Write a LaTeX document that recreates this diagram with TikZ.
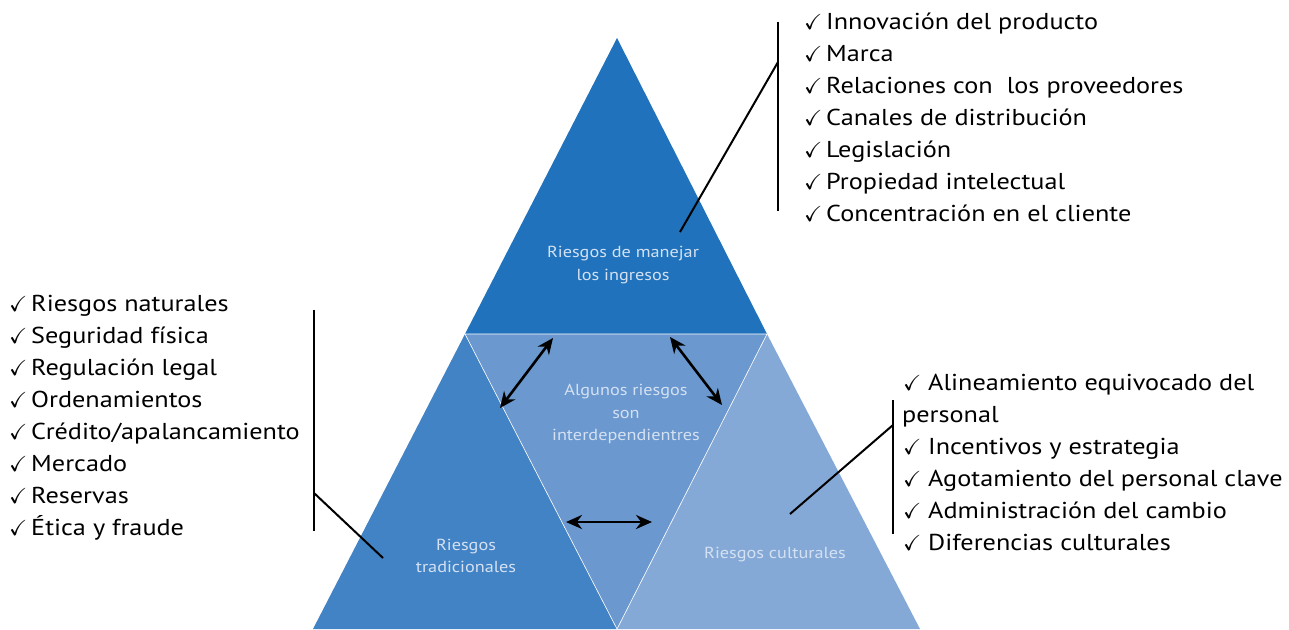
\documentclass[tikz,border=0pt]{standalone}
\usepackage{fontspec}
\usepackage{amssymb}
\setmainfont{PT Sans}[FakeStretch=1.14]
\usetikzlibrary{arrows.meta}
\definecolor{topblue}{HTML}{1F72BB}
\definecolor{leftblue}{HTML}{4283C5}
\definecolor{midblue}{HTML}{6A98CF}
\definecolor{rightblue}{HTML}{85A9D7}
\definecolor{labeltxt}{HTML}{D4E1F2}
\newcommand{\ckm}{\makebox[22pt][l]{\scalebox{0.95}{$\checkmark$}}}
\newcommand{\ckr}{\makebox[25pt][l]{\scalebox{0.95}{$\checkmark$}}}
\begin{document}
\begin{tikzpicture}[x=1pt,y=-1pt,
  piece/.style={draw=white,line width=0.6pt},
  tlabel/.style={font=\fontsize{16}{22.5}\selectfont,text=labeltxt,align=center,inner sep=0pt},
  listitem/.style={font=\fontsize{23}{32}\selectfont,anchor=base west,inner sep=0pt},
  lead/.style={line width=2pt,black},
  dbl/.style={line width=2.6pt,black,{Stealth[length=16pt,width=14pt]}-{Stealth[length=16pt,width=14pt]}}]
\useasboundingbox (0,0) rectangle (1289,629);
% vertices
\coordinate (A) at (617,38);
\coordinate (B) at (465,334);
\coordinate (C) at (767,334);
\coordinate (D) at (313,629);
\coordinate (E) at (617,629);
\coordinate (F) at (920,629);
% pieces
\fill[topblue] (A) -- (B) -- (C) -- cycle;
\fill[leftblue] (B) -- (D) -- (E) -- cycle;
\fill[midblue] (B) -- (C) -- (E) -- cycle;
\fill[rightblue] (C) -- (E) -- (F) -- cycle;
\draw[piece] (B) -- (C) -- (E) -- cycle;
% triangle labels
\node[tlabel] (t1) at (623,265) {Riesgos de manejar\\los ingresos};
\node[tlabel] (t2) at (626,414) {Algunos riesgos\\son\\interdependientres};
\node[tlabel] (t3) at (466,556) {Riesgos\\tradicionales};
\node[tlabel] (t4) at (775,555) {Riesgos culturales};
% arrows
\coordinate (a1s) at (500,408); \coordinate (a1e) at (553,338);
\coordinate (a2s) at (670,337); \coordinate (a2e) at (722,405);
\coordinate (a3s) at (566,522); \coordinate (a3e) at (652,522);
\draw[dbl] (a1s) -- (a1e);
\draw[dbl] (a2s) -- (a2e);
\draw[dbl] (a3s) -- (a3e);
% leader lines
\coordinate (tv1) at (778,22); \coordinate (tv2) at (778,211);
\coordinate (td1) at (680,232); \coordinate (td2) at (778,62);
\draw[lead] (tv1) -- (tv2);
\draw[lead] (td1) -- (td2);
\coordinate (lv1) at (314,310); \coordinate (lv2) at (314,531);
\coordinate (ld1) at (314,493); \coordinate (ld2) at (383,558);
\draw[lead] (lv1) -- (lv2);
\draw[lead] (ld1) -- (ld2);
\coordinate (rv1) at (893,400); \coordinate (rv2) at (893,534);
\coordinate (rd1) at (893,425); \coordinate (rd2) at (790,514);
\draw[lead] (rv1) -- (rv2);
\draw[lead] (rd1) -- (rd2);
% top list
\foreach \t [count=\i from 0] in {Innovación del producto,Marca,Relaciones con\ \ los proveedores,Canales de distribución,Legislación,Propiedad intelectual,Concentración en el cliente}
  \node[listitem] (tl\i) at (804,29+32*\i) {\ckm\t};
% left list
\foreach \t [count=\i from 0] in {Riesgos naturales,Seguridad física,Regulación legal,Ordenamientos,Crédito/apalancamiento,Mercado,Reservas,Ética y fraude}
  \node[listitem] (ll\i) at (9,311+32*\i) {\ckm\t};
% right list
\node[listitem] (rl0) at (903,390) {\ckr Alineamiento equivocado del};
\node[listitem] (rl1) at (902,422) {personal};
\foreach \t [count=\i from 2] in {Incentivos y estrategia,Agotamiento del personal clave,Administración del cambio,Diferencias culturales}
  \node[listitem] (rl\i) at (903,454+32*\i-64) {\ckr\t};
\end{tikzpicture}
\end{document}
